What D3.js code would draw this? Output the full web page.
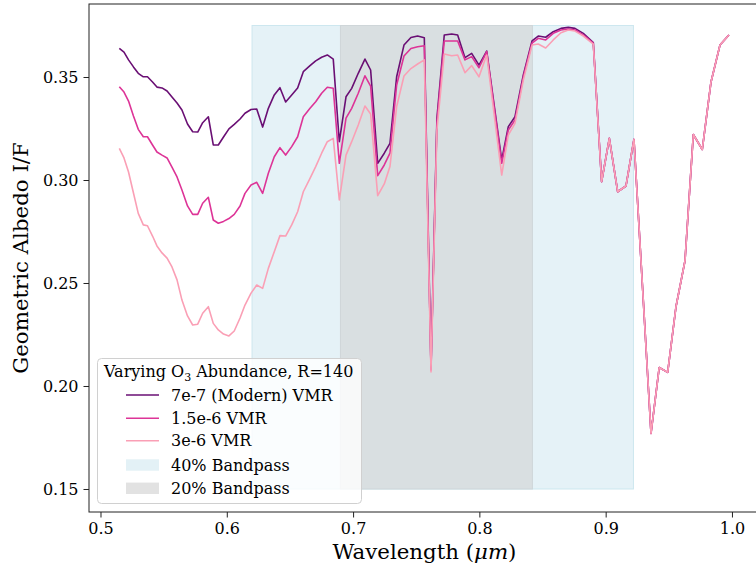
<!DOCTYPE html>
<html>
<head>
<meta charset="utf-8">
<script src="https://cdn.jsdelivr.net/npm/d3@7"></script>
<style>
  html, body { margin: 0; padding: 0; background: #ffffff; }
  svg { display: block; }
  text { font-family: "DejaVu Serif", serif; fill: #000; }
</style>
</head>
<body>
<svg id="chart" width="756" height="573"></svg>
<script>
// ---------------- data ----------------
const wavelength = [
  0.5149,0.5186,0.5222,0.5261,0.5299,0.5339,0.5372,0.5412,0.5447,0.5487,
  0.5527,0.5566,0.5606,0.5645,0.5689,0.5730,0.5770,0.5809,0.5854,0.5893,
  0.5933,0.5974,0.6017,0.6059,0.6105,0.6144,0.6192,0.6237,0.6284,0.6329,
  0.6376,0.6421,0.6466,0.6514,0.6561,0.6606,0.6659,0.6704,0.6751,0.6796,
  0.6843,0.6891,0.6944,0.6989,0.7041,0.7094,0.7139,0.7195,0.7247,0.7292,
  0.7345,0.7403,0.7458,0.7511,0.7564,0.7617,0.7664,0.7722,0.7781,0.7828,
  0.7886,0.7939,0.7997,0.8058,0.8177,0.8229,0.8282,0.8348,0.8417,0.8466,
  0.8525,0.8585,0.8646,0.8704,0.8757,0.8823,0.8902,0.8968,0.9029,0.9095,
  0.9161,0.9224,0.9359,0.9424,0.9491,0.9557,0.9628,0.9694,0.9765,0.9834,
  0.9905,0.9976
];
const albedoModern = [
  0.3639,0.3621,0.3583,0.3549,0.3518,0.3501,0.3501,0.3476,0.3451,0.3447,
  0.3432,0.3403,0.3374,0.3340,0.3272,0.3234,0.3233,0.3278,0.3307,0.3170,
  0.3170,0.3209,0.3248,0.3270,0.3296,0.3324,0.3342,0.3345,0.3257,0.3348,
  0.3413,0.3448,0.3379,0.3413,0.3447,0.3526,0.3555,0.3578,0.3596,0.3607,
  0.3587,0.3186,0.3404,0.3445,0.3518,0.3587,0.3534,0.3081,0.3130,0.3178,
  0.3501,0.3655,0.3692,0.3699,0.3691,0.2087,0.3301,0.3704,0.3709,0.3704,
  0.3594,0.3615,0.3558,0.3626,0.3097,0.3259,0.3307,0.3510,0.3675,0.3699,
  0.3693,0.3720,0.3736,0.3741,0.3736,0.3712,0.3667,0.2992,0.3202,0.2943,
  0.2971,0.3197,0.1770,0.2090,0.2066,0.2386,0.2607,0.3221,0.3148,0.3476,
  0.3655,0.3704
];
const albedo15e6 = [
  0.3453,0.3427,0.3383,0.3311,0.3246,0.3210,0.3210,0.3170,0.3136,0.3121,
  0.3107,0.3063,0.3015,0.2951,0.2874,0.2833,0.2833,0.2887,0.2916,0.2806,
  0.2790,0.2799,0.2813,0.2833,0.2874,0.2935,0.2976,0.2989,0.2935,0.3033,
  0.3113,0.3157,0.3121,0.3162,0.3210,0.3307,0.3348,0.3380,0.3421,0.3450,
  0.3445,0.3081,0.3300,0.3348,0.3421,0.3506,0.3456,0.3021,0.3073,0.3130,
  0.3461,0.3602,0.3638,0.3647,0.3652,0.2078,0.3282,0.3675,0.3675,0.3675,
  0.3583,0.3599,0.3545,0.3623,0.3081,0.3243,0.3291,0.3501,0.3665,0.3688,
  0.3680,0.3712,0.3728,0.3733,0.3728,0.3704,0.3664,0.2992,0.3202,0.2943,
  0.2971,0.3197,0.1770,0.2090,0.2066,0.2386,0.2607,0.3221,0.3148,0.3476,
  0.3655,0.3704
];
const albedo3e6 = [
  0.3154,0.3107,0.3039,0.2937,0.2838,0.2782,0.2778,0.2728,0.2680,0.2646,
  0.2621,0.2578,0.2515,0.2417,0.2340,0.2296,0.2300,0.2353,0.2385,0.2304,
  0.2272,0.2252,0.2243,0.2267,0.2330,0.2393,0.2451,0.2490,0.2474,0.2571,
  0.2652,0.2730,0.2728,0.2782,0.2846,0.2943,0.3008,0.3065,0.3130,0.3186,
  0.3202,0.2903,0.3121,0.3186,0.3267,0.3359,0.3320,0.2924,0.2981,0.3065,
  0.3356,0.3505,0.3541,0.3563,0.3583,0.2068,0.3243,0.3612,0.3603,0.3607,
  0.3521,0.3555,0.3501,0.3607,0.3024,0.3218,0.3275,0.3485,0.3655,0.3660,
  0.3641,0.3680,0.3715,0.3728,0.3723,0.3699,0.3660,0.2992,0.3202,0.2943,
  0.2971,0.3197,0.1770,0.2090,0.2066,0.2386,0.2607,0.3221,0.3148,0.3476,
  0.3655,0.3704
];
const seriesLabels = ["7e-7 (Modern) VMR", "1.5e-6 VMR", "3e-6 VMR"];
const seriesColors = ["#6a0f74", "#dd3497", "#fa9fb5"];

const bandLabels = ["40% Bandpass", "20% Bandpass"];
const bandStart  = [0.620, 0.690];
const bandEnd    = [0.922, 0.842];
const bandLow    = [0.15, 0.15];
const bandHigh   = [0.375, 0.375];
const bandFill   = ["#e5f2f7", "#d9dfe1"];
const bandEdge   = ["#cde7ef", "#cfd6d9"];
const bandSwatch = ["#e3f1f6", "#e2e2e2"];

const xTicks = [0.5, 0.6, 0.7, 0.8, 0.9, 1.0];
const yTicks = [0.15, 0.20, 0.25, 0.30, 0.35];

// ---------------- layout ----------------
const svg = d3.select("#chart");
const mLeft = 89, mRight = 760, mTop = 4, mBottom = 512;

const x = d3.scaleLinear().domain([0.4909, 1.0222]).range([mLeft, mRight]);
const y = d3.scaleLinear().domain([0.13883, 0.38544]).range([mBottom, mTop]);

const defs = svg.append("defs");
defs.append("clipPath").attr("id", "plotclip")
  .append("rect").attr("x", mLeft).attr("y", mTop)
  .attr("width", mRight - mLeft).attr("height", mBottom - mTop);

const plot = svg.append("g").attr("clip-path", "url(#plotclip)");

// bandpasses
bandLabels.forEach((lab, i) => {
  plot.append("rect")
    .attr("x", x(bandStart[i])).attr("y", y(bandHigh[i]))
    .attr("width", x(bandEnd[i]) - x(bandStart[i]))
    .attr("height", y(bandLow[i]) - y(bandHigh[i]))
    .attr("fill", bandFill[i])
    .attr("stroke", bandEdge[i]).attr("stroke-width", 1);
});

// lines
const seriesData = [albedoModern, albedo15e6, albedo3e6];
const line = d3.line().x(d => x(d[0])).y(d => y(d[1]));
seriesData.forEach((vals, i) => {
  const pts = wavelength.map((w, j) => [w, vals[j]]);
  plot.append("path").datum(pts)
    .attr("d", line)
    .attr("fill", "none")
    .attr("stroke", seriesColors[i])
    .attr("stroke-width", 1.6)
    .attr("stroke-linejoin", "round");
});

// spines
svg.append("rect").attr("x", mLeft).attr("y", mTop)
  .attr("width", mRight - mLeft).attr("height", mBottom - mTop)
  .attr("fill", "none").attr("stroke", "#222").attr("stroke-width", 1);

// axes
const xAxis = d3.axisBottom(x).tickValues(xTicks).tickFormat(d3.format(".1f"))
  .tickSizeOuter(0).tickSizeInner(5.5).tickPadding(5);
const gx = svg.append("g").attr("transform", `translate(0,${mBottom})`).call(xAxis);
gx.select(".domain").remove();
gx.selectAll("line").attr("stroke", "#222");
gx.selectAll("text").style("font-family", "DejaVu Serif").style("font-size", "16px").attr("fill", "#000");

const yAxis = d3.axisLeft(y).tickValues(yTicks).tickFormat(d3.format(".2f"))
  .tickSizeOuter(0).tickSizeInner(5.5).tickPadding(5);
const gy = svg.append("g").attr("transform", `translate(${mLeft},0)`).call(yAxis);
gy.select(".domain").remove();
gy.selectAll("line").attr("stroke", "#222");
gy.selectAll("text").style("font-family", "DejaVu Serif").style("font-size", "16px").attr("fill", "#000");

// axis labels
const xl = svg.append("text")
  .attr("x", (mLeft + mRight) / 2).attr("y", 559)
  .attr("text-anchor", "middle").style("font-size", "21.3px");
xl.append("tspan").text("Wavelength (");
xl.append("tspan").attr("font-style", "italic").text("μm");
xl.append("tspan").text(")");

svg.append("text")
  .attr("transform", `translate(28,${(mTop + mBottom) / 2}) rotate(-90)`)
  .attr("text-anchor", "middle").style("font-size", "21.3px")
  .text("Geometric Albedo I/F");

// legend
const lg = svg.append("g");
lg.append("rect").attr("x", 97.5).attr("y", 358.5).attr("width", 264).attr("height", 145)
  .attr("rx", 4).attr("ry", 4)
  .attr("fill", "#ffffff").attr("fill-opacity", 0.8)
  .attr("stroke", "#d0d0d0").attr("stroke-width", 1);

const title = lg.append("text").attr("x", 104).attr("y", 376.5).style("font-size", "16px");
title.append("tspan").text("Varying O");
title.append("tspan").attr("dy", 4).style("font-size", "11px").text("3");
title.append("tspan").attr("dy", -4).text(" Abundance, R=140");

const rowY = [395, 418.3, 440.7, 465, 488.3];
seriesLabels.forEach((lab, i) => {
  lg.append("line").attr("x1", 126).attr("x2", 159)
    .attr("y1", rowY[i]).attr("y2", rowY[i])
    .attr("stroke", seriesColors[i]).attr("stroke-width", 1.6);
  lg.append("text").attr("x", 171).attr("y", rowY[i] + 5.7)
    .style("font-size", "16px").text(lab);
});
bandLabels.forEach((lab, i) => {
  const ry = rowY[3 + i];
  lg.append("rect").attr("x", 126).attr("y", ry - 5.7).attr("width", 33).attr("height", 11.4)
    .attr("fill", bandSwatch[i]);
  lg.append("text").attr("x", 171).attr("y", ry + 5.7)
    .style("font-size", "16px").text(lab);
});
</script>
</body>
</html>
